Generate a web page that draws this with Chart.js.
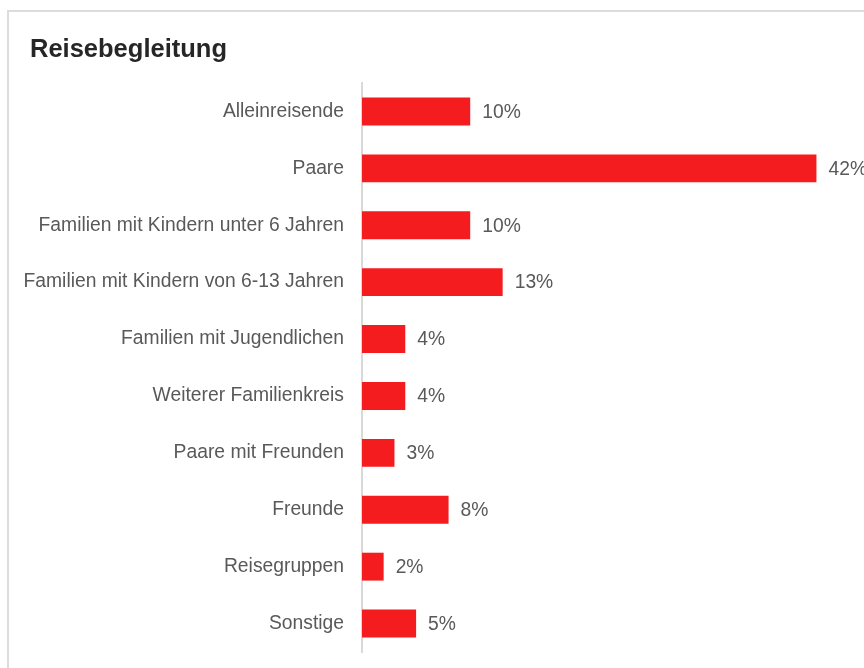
<!DOCTYPE html>
<html lang="de">
<head>
<meta charset="utf-8">
<title>Reisebegleitung</title>
<script src="https://cdn.jsdelivr.net/npm/chart.js@4/dist/chart.umd.min.js"></script>
<style>
    html, body {
        margin: 0;
        padding: 0;
        background: #ffffff;
        overflow: hidden;
    }
    .card {
        position: absolute;
        left: 7px;
        top: 10px;
        width: 900px;
        height: 700px;
        border-left: 2px solid #dcdcdc;
        border-top: 2px solid #dcdcdc;
    }
    .card h1 {
        position: absolute;
        left: 21px;
        top: 21px;
        margin: 0;
        font-family: 'Liberation Sans', Arial, sans-serif;
        font-size: 25.5px;
        line-height: 30px;
        font-weight: bold;
        color: #262626;
        white-space: nowrap;
    }
    #travelChart {
        display: block;
    }
</style>
</head>
<body>
<div class="card">
    <canvas id="travelChart" width="894" height="656"></canvas>
    <h1>Reisebegleitung</h1>
</div>
<script>
// Kategorien und Anteile (%)
const categories = [
    'Alleinreisende',
    'Paare',
    'Familien mit Kindern unter 6 Jahren',
    'Familien mit Kindern von 6-13 Jahren',
    'Familien mit Jugendlichen',
    'Weiterer Familienkreis',
    'Paare mit Freunden',
    'Freunde',
    'Reisegruppen',
    'Sonstige'
];
const shares = [10, 42, 10, 13, 4, 4, 3, 8, 2, 5];

const FONT = "'Liberation Sans', Arial, sans-serif";

// Prozentwerte rechts neben den Balken
const valueLabels = {
    id: 'valueLabels',
    afterDatasetsDraw(chart) {
        const ctx = chart.ctx;
        const meta = chart.getDatasetMeta(0);
        ctx.save();
        ctx.font = '19.3px ' + FONT;
        ctx.fillStyle = '#595959';
        ctx.textAlign = 'left';
        ctx.textBaseline = 'middle';
        meta.data.forEach((bar, i) => {
            ctx.fillText(shares[i] + '%', bar.x + 12, bar.y + 1);
        });
        ctx.restore();
    }
};

document.addEventListener('DOMContentLoaded', function() {
    const ctx = document.getElementById('travelChart').getContext('2d');
    new Chart(ctx, {
        type: 'bar',
        data: {
            labels: categories,
            datasets: [{
                data: shares,
                backgroundColor: '#f41c1e',
                borderWidth: 0,
                barPercentage: 0.49,
                categoryPercentage: 1
            }]
        },
        options: {
            indexAxis: 'y',
            responsive: false,
            animation: false,
            layout: {
                padding: { left: 0, right: 0, top: 71, bottom: 16 }
            },
            scales: {
                x: {
                    display: false,
                    min: 0,
                    max: 50
                },
                y: {
                    // feste Breite der Beschriftungsspalte, kein Zusatzrand oben/unten
                    afterFit(scale) {
                        scale.width = 353;
                        scale.paddingTop = 0;
                        scale.paddingBottom = 0;
                    },
                    grid: { display: false, drawTicks: false },
                    border: { display: true, color: '#d9d9d9', width: 2 },
                    ticks: {
                        padding: 18,
                        color: '#595959',
                        font: { family: FONT, size: 19.3 }
                    }
                }
            },
            plugins: {
                legend: { display: false },
                tooltip: { enabled: false },
                title: { display: false }
            }
        },
        plugins: [valueLabels]
    });
});
</script>
</body>
</html>
